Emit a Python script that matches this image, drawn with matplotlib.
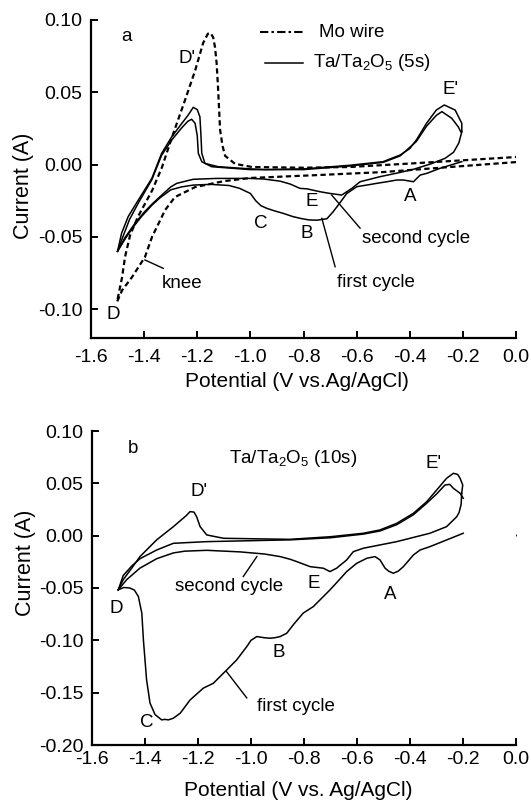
import matplotlib
matplotlib.use("Agg")
import matplotlib.pyplot as plt
from matplotlib.lines import Line2D

plt.rcParams['font.family'] = ['Liberation Sans', 'DejaVu Sans']
plt.rcParams['mathtext.fontset'] = 'custom'
plt.rcParams['mathtext.rm'] = 'Liberation Sans'
plt.rcParams['mathtext.it'] = 'Liberation Sans:italic'
plt.rcParams['axes.unicode_minus'] = False

# ---------------- data: panel a ----------------
mo_x = [0.0, -0.248, -0.50, -0.749, -1.001, -1.10, -1.208, -1.284, -1.321, -1.370, -1.397, -1.446, -1.483, -1.502,
        -1.483, -1.472, -1.453, -1.423, -1.370, -1.333, -1.295, -1.246, -1.208, -1.178, -1.160, -1.150, -1.140,
        -1.133, -1.127, -1.122, -1.114, -1.105, -1.095, -1.058, -0.994, -0.80, -0.625, -0.372, -0.248, 0.0]
mo_y = [0.0017, -0.0017, -0.0052, -0.0073, -0.0093, -0.0115, -0.0156, -0.0225, -0.0315, -0.050, -0.064, -0.078, -0.087, -0.095,
        -0.078, -0.064, -0.049, -0.036, -0.018, -0.002, 0.019, 0.0446, 0.065, 0.084, 0.0905, 0.091, 0.088,
        0.081, 0.070, 0.054, 0.024, 0.013, 0.006, 0.0005, -0.0017, -0.0022, -0.0017, 0.001, 0.0024, 0.0052]

ta5_c1_x = [-0.204, -0.286, -0.336, -0.361, -0.386, -0.424, -0.449, -0.486, -0.524, -0.562, -0.599, -0.637, -0.669,
            -0.69, -0.712, -0.75, -0.78, -0.813, -0.84, -0.876, -0.91, -0.938, -0.96, -0.98, -1.0, -1.04, -1.08,
            -1.15, -1.215, -1.26, -1.30, -1.34, -1.37, -1.41, -1.44, -1.47, -1.50]
ta5_c1_y = [0.002, -0.0026, -0.0061, -0.0073, -0.0119, -0.0107, -0.0107, -0.0119, -0.0130, -0.0142, -0.0153, -0.020, -0.028,
            -0.033, -0.0375, -0.0385, -0.0383, -0.0372, -0.036, -0.0338, -0.032, -0.0303, -0.0285, -0.025, -0.020, -0.0165, -0.0145,
            -0.0137, -0.0142, -0.0155, -0.0175, -0.023, -0.028, -0.036, -0.043, -0.051, -0.060]

ta5_a1_x = [-1.50, -1.485, -1.46, -1.422, -1.371, -1.334, -1.296, -1.258, -1.235, -1.215, -1.20, -1.190, -1.186, -1.183,
            -1.171, -1.121, -1.0, -0.945, -0.80, -0.625, -0.50, -0.436, -0.40, -0.375, -0.337, -0.30, -0.27, -0.229,
            -0.204, -0.204]
ta5_a1_y = [-0.060, -0.0476, -0.036, -0.0246, -0.0096, 0.0078, 0.0192, 0.0285, 0.034, 0.0396, 0.038, 0.033, 0.020, 0.0078,
            0.0008, -0.0015, -0.003, -0.0035, -0.003, -0.0005, 0.002, 0.0066, 0.011, 0.017, 0.0285, 0.0377, 0.0412, 0.0377,
            0.0285, 0.0227]

ta5_c2_x = [-0.204, -0.215, -0.235, -0.267, -0.32, -0.386, -0.45, -0.512, -0.587, -0.618, -0.656, -0.70, -0.738, -0.787,
            -0.813, -0.85, -0.888, -0.95, -1.001, -1.127, -1.215, -1.277, -1.30, -1.34, -1.371, -1.40, -1.434, -1.472, -1.50]
ta5_c2_y = [0.0227, 0.015, 0.0085, 0.0043, 0.0005, -0.0033, -0.0060, -0.0084, -0.0119, -0.0165, -0.0211, -0.020, -0.0188, -0.0168,
            -0.0165, -0.0135, -0.0115, -0.0100, -0.0096, -0.0096, -0.0102, -0.013, -0.0155, -0.0222, -0.0275, -0.033, -0.0405, -0.0505, -0.060]

ta5_a2_x = [-1.50, -1.48, -1.455, -1.42, -1.371, -1.334, -1.296, -1.258, -1.235, -1.221, -1.208, -1.200, -1.196, -1.183,
            -1.146, -1.0, -0.80, -0.625, -0.50, -0.436, -0.375, -0.337, -0.30, -0.279, -0.242, -0.217, -0.208]
ta5_a2_y = [-0.060, -0.050, -0.038, -0.026, -0.0105, 0.0065, 0.0170, 0.0255, 0.030, 0.0313, 0.0285, 0.020, 0.0078, 0.002,
            -0.0015, -0.0035, -0.0035, -0.001, 0.0015, 0.006, 0.0160, 0.0265, 0.0340, 0.0366, 0.032, 0.026, 0.0227]

# ---------------- data: panel b ----------------
ta10_c1_x = [-0.199, -0.262, -0.325, -0.362, -0.387, -0.425, -0.445, -0.463, -0.48, -0.494, -0.513, -0.532, -0.563,
             -0.601, -0.639, -0.670, -0.702, -0.765, -0.803, -0.84, -0.865, -0.890, -0.91, -0.928, -0.95, -0.978,
             -1.0, -1.016, -1.054, -1.104, -1.142, -1.180, -1.230, -1.267, -1.293, -1.312, -1.325, -1.337, -1.362,
             -1.381, -1.394, -1.406, -1.412, -1.425, -1.44, -1.457, -1.48, -1.501]
ta10_c1_y = [0.0023, -0.0041, -0.0105, -0.0137, -0.0184, -0.0296, -0.034, -0.0359, -0.034, -0.0311, -0.0232, -0.020, -0.0216,
             -0.0264, -0.0343, -0.043, -0.0518, -0.0678, -0.074, -0.085, -0.0932, -0.0964, -0.0975, -0.098, -0.0975, -0.0964,
             -0.100, -0.106, -0.1187, -0.1314, -0.141, -0.1457, -0.157, -0.1696, -0.1744, -0.176, -0.1755, -0.176, -0.171,
             -0.160, -0.1378, -0.0996, -0.074, -0.0582, -0.052, -0.050, -0.0495, -0.0518]

ta10_a1_x = [-1.501, -1.482, -1.45, -1.419, -1.356, -1.293, -1.245, -1.230, -1.215, -1.205, -1.192, -1.167, -1.104,
             -0.853, -0.70, -0.576, -0.513, -0.450, -0.387, -0.337, -0.299, -0.262, -0.236, -0.22, -0.211, -0.201, -0.205]
ta10_a1_y = [-0.0518, -0.042, -0.031, -0.020, -0.004, 0.0086, 0.019, 0.023, 0.0225, 0.018, 0.0086, 0.0007, -0.0025,
             -0.0035, -0.001, 0.0023, 0.0055, 0.0118, 0.0214, 0.0325, 0.0437, 0.0548, 0.0596, 0.0585, 0.0548, 0.0484, 0.0405]

ta10_c2_x = [-0.205, -0.207, -0.215, -0.224, -0.262, -0.325, -0.450, -0.576, -0.614, -0.639, -0.677, -0.702, -0.727,
             -0.777, -0.827, -0.853, -0.890, -0.95, -1.041, -1.167, -1.25, -1.293, -1.356, -1.419, -1.469, -1.501]
ta10_c2_y = [0.0405, 0.030, 0.022, 0.018, 0.0086, 0.0023, -0.0057, -0.012, -0.0153, -0.0232, -0.0311, -0.0343, -0.0311,
             -0.0296, -0.0248, -0.0225, -0.020, -0.0175, -0.0155, -0.0140, -0.0148, -0.0165, -0.022, -0.031, -0.042, -0.0518]

ta10_a2_x = [-1.501, -1.482, -1.45, -1.419, -1.356, -1.293, -1.167, -0.853, -0.70, -0.576, -0.513, -0.450, -0.387,
             -0.337, -0.299, -0.268, -0.250, -0.236, -0.211, -0.199]
ta10_a2_y = [-0.0518, -0.038, -0.029, -0.022, -0.0137, -0.0073, -0.0057, -0.0040, -0.002, 0.0015, 0.0045, 0.0105, 0.020,
             0.031, 0.040, 0.0484, 0.0490, 0.0452, 0.0405, 0.0357]

stray_x = [0.002]
stray_y = [0.0007]

# tick labels
xticks = [-1.6, -1.4, -1.2, -1.0, -0.8, -0.6, -0.4, -0.2, 0.0]
yticks_a = [-0.10, -0.05, 0.00, 0.05, 0.10]
yticks_b = [-0.20, -0.15, -0.10, -0.05, 0.00, 0.05, 0.10]

# annotations (text, x, y)
labels_a = [("a", -1.466, 0.0885), ("D'", -1.240, 0.0736), ("E'", -0.245, 0.0516), ("E", -0.769, -0.0257),
            ("A", -0.399, -0.0223), ("B", -0.788, -0.0476), ("C", -0.962, -0.0405), ("D", -1.516, -0.104),
            ("second cycle", -0.376, -0.0511), ("first cycle", -0.527, -0.0818), ("knee", -1.258, -0.0822)]
leaders_a = [((-0.694, -0.587), (-0.0211, -0.044)), ((-0.731, -0.681), (-0.0372, -0.0707)),
             ((-1.397, -1.328), (-0.066, -0.0718))]
labels_b = [("b", -1.444, 0.0835), ("Ta/Ta$_2$O$_5$ (10s)", -0.840, 0.0739), ("D'", -1.195, 0.042), ("E'", -0.312, 0.069),
            ("E", -0.765, -0.0455), ("A", -0.475, -0.0565), ("B", -0.897, -0.112), ("C", -1.394, -0.1786),
            ("D", -1.507, -0.0693), ("second cycle", -1.083, -0.0487), ("first cycle", -0.830, -0.1633)]
leaders_b = [((-0.978, -1.029), (-0.020, -0.039)), ((-1.092, -1.016), (-0.130, -0.155))]

FS = 13.5
TFS = 14
LFS = 15.5
LW = 1.1

fig = plt.figure(figsize=(5.31, 8.02), dpi=100)
ax1 = fig.add_axes([91 / 531, 1 - 338 / 802, 425 / 531, 318 / 802])
ax2 = fig.add_axes([92 / 531, 1 - 745 / 802, 424 / 531, 314 / 802])

ax1.plot(mo_x, mo_y, color='black', lw=1.6, linestyle=(0, (2.4, 1.5)))
for xs, ys in [(ta5_c1_x, ta5_c1_y), (ta5_a1_x, ta5_a1_y), (ta5_c2_x, ta5_c2_y), (ta5_a2_x, ta5_a2_y)]:
    ax1.plot(xs, ys, color='black', lw=LW)
for xs, ys in [(ta10_c1_x, ta10_c1_y), (ta10_a1_x, ta10_a1_y), (ta10_c2_x, ta10_c2_y), (ta10_a2_x, ta10_a2_y)]:
    ax2.plot(xs, ys, color='black', lw=LW)
ax2.plot(stray_x, stray_y, 'o', color='black', ms=1.0)

for ax, labels, leaders in [(ax1, labels_a, leaders_a), (ax2, labels_b, leaders_b)]:
    for t, x, y in labels:
        ax.text(x, y, t, ha='center', va='center', fontsize=FS)
    for xs, ys in leaders:
        ax.plot(xs, ys, color='black', lw=1.0)

# legend for panel a (drawn manually)
ax1.add_line(Line2D([0.398, 0.499], [0.962, 0.962], transform=ax1.transAxes, color='black', lw=1.5,
                    linestyle=(0, (4, 1.5, 1.2, 1.5))))
ax1.text(0.536, 0.962, "Mo wire", transform=ax1.transAxes, ha='left', va='center', fontsize=FS)
ax1.add_line(Line2D([0.409, 0.499], [0.865, 0.865], transform=ax1.transAxes, color='black', lw=1.1))
ax1.text(0.522, 0.865, "Ta/Ta$_2$O$_5$ (5s)", transform=ax1.transAxes, ha='left', va='center', fontsize=FS)

ax1.set_xlim(-1.6, 0.0)
ax1.set_ylim(-0.12, 0.10)
ax2.set_xlim(-1.6, 0.0)
ax2.set_ylim(-0.20, 0.10)
ax1.set_yticks(yticks_a)
ax1.set_yticklabels([f"{v:.2f}" for v in yticks_a])
ax2.set_yticks(yticks_b)
ax2.set_yticklabels([f"{v:.2f}" for v in yticks_b])
for ax in (ax1, ax2):
    ax.set_xticks(xticks)
    ax.set_xticklabels([f"{v:.1f}" for v in xticks])
    for s in ('top', 'right'):
        ax.spines[s].set_visible(False)
    for s in ('left', 'bottom'):
        ax.spines[s].set_linewidth(1.6)
    ax.tick_params(direction='in', length=5, width=1.4, labelsize=TFS)
    ax.tick_params(axis='y', pad=6)
    ax.set_ylabel("Current (A)", fontsize=LFS)

ax1.tick_params(axis='x', pad=8)
ax2.tick_params(axis='x', pad=4)
ax1.set_xlabel("Potential (V vs.Ag/AgCl)", fontsize=15)
ax2.set_xlabel("Potential (V vs. Ag/AgCl)", fontsize=15)
for ax in (ax1, ax2):
    ax.xaxis.label.set_va('center')
    ax.yaxis.label.set_va('center')
ax1.yaxis.set_label_coords(-0.158, 0.478)
ax2.yaxis.set_label_coords(-0.158, 0.58)
ax1.xaxis.set_label_coords(0.485, -0.138)
ax2.xaxis.set_label_coords(0.486, -0.145)

fig.savefig("out.png", dpi=100)
